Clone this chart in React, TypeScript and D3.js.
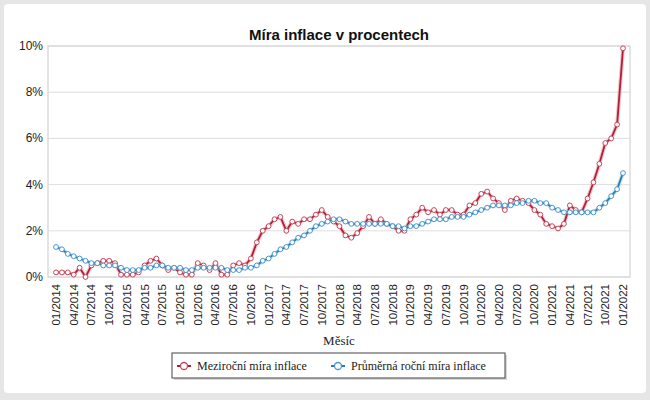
import React from "react";
import * as d3 from "d3";

const years = [2014, 2015, 2016, 2017, 2018, 2019, 2020, 2021, 2022];

const meziRocni: number[] = [
  0.2, 0.2, 0.2, 0.1, 0.4, 0.0, 0.5, 0.6, 0.7, 0.7, 0.6, 0.1,
  0.1, 0.1, 0.2, 0.5, 0.7, 0.8, 0.5, 0.3, 0.4, 0.2, 0.1, 0.1,
  0.6, 0.5, 0.3, 0.6, 0.1, 0.1, 0.5, 0.6, 0.5, 0.8, 1.5, 2.0,
  2.2, 2.5, 2.6, 2.0, 2.4, 2.3, 2.5, 2.5, 2.7, 2.9, 2.6, 2.4,
  2.2, 1.8, 1.7, 1.9, 2.2, 2.6, 2.3, 2.5, 2.3, 2.2, 2.0, 2.0,
  2.5, 2.7, 3.0, 2.8, 2.9, 2.7, 2.9, 2.9, 2.7, 2.7, 3.1, 3.2,
  3.6, 3.7, 3.4, 3.2, 2.9, 3.3, 3.4, 3.3, 3.2, 2.9, 2.7, 2.3,
  2.2, 2.1, 2.3, 3.1, 2.9, 2.8, 3.4, 4.1, 4.9, 5.8, 6.0, 6.6,
  9.9,
];

const prumernaRocni: number[] = [
  1.3, 1.2, 1.0, 0.9, 0.8, 0.7, 0.6, 0.6, 0.5, 0.5, 0.5, 0.4,
  0.3, 0.3, 0.3, 0.4, 0.4, 0.5, 0.5, 0.4, 0.4, 0.4, 0.3, 0.3,
  0.4, 0.4, 0.4, 0.4, 0.4, 0.3, 0.3, 0.3, 0.4, 0.4, 0.5, 0.7,
  0.8, 1.0, 1.2, 1.3, 1.5, 1.7, 1.8, 2.0, 2.2, 2.3, 2.4, 2.5,
  2.5, 2.4, 2.3, 2.3, 2.3, 2.3, 2.3, 2.3, 2.3, 2.2, 2.2, 2.1,
  2.2, 2.2, 2.3, 2.4, 2.5, 2.5, 2.5, 2.6, 2.6, 2.6, 2.7, 2.8,
  2.9, 3.0, 3.1, 3.1, 3.1, 3.1, 3.2, 3.2, 3.3, 3.3, 3.2, 3.2,
  3.0, 2.9, 2.8, 2.8, 2.8, 2.8, 2.8, 2.8, 3.0, 3.2, 3.5, 3.8,
  4.5,
];

const tickLabels = [
  "01/2014", "04/2014", "07/2014", "10/2014",
  "01/2015", "04/2015", "07/2015", "10/2015",
  "01/2016", "04/2016", "07/2016", "10/2016",
  "01/2017", "04/2017", "07/2017", "10/2017",
  "01/2018", "04/2018", "07/2018", "10/2018",
  "01/2019", "04/2019", "07/2019", "10/2019",
  "01/2020", "04/2020", "07/2020", "10/2020",
  "01/2021", "04/2021", "07/2021", "10/2021",
  "01/2022",
];

const yTicks = [0, 2, 4, 6, 8, 10];

const months: string[] = [];
years.forEach((y) => {
  for (let m = 1; m <= 12; m++) {
    if (y === 2022 && m > 1) break;
    months.push(`${String(m).padStart(2, "0")}/${y}`);
  }
});

const series = [
  { name: "Meziroční míra inflace", values: meziRocni, line: "#b01f36", marker: "#c8485b", halo: "#e8a0aa" },
  { name: "Průměrná roční míra inflace", values: prumernaRocni, line: "#2a78b4", marker: "#4a98cf", halo: "#9fcbe8" },
];

export default function App() {
  const plot = { left: 48, right: 630, top: 46, bottom: 277 };
  const x = d3.scalePoint<string>().domain(months).range([56, 623]);
  const y = d3.scaleLinear().domain([0, 10]).range([plot.bottom, plot.top]);
  const line = d3
    .line<number>()
    .x((_, i) => x(months[i]) as number)
    .y((d) => y(d));

  const sans = "'Liberation Sans', Arial, sans-serif";
  const serif = "'Liberation Serif', 'Times New Roman', serif";

  return (
    <svg width={650} height={400} style={{ position: "absolute", left: 0, top: 0 }}>
      <rect x={0} y={0} width={650} height={400} fill="#e6e6e6" />
      <rect x={4} y={4} width={642} height={389} rx={4} fill="#ffffff" />
      <text x={339} y={40} textAnchor="middle" fontFamily={sans} fontWeight="bold" fontSize={15} fill="#111">
        Míra inflace v procentech
      </text>

      {yTicks.map((t) => (
        <g key={t}>
          <line x1={plot.left} x2={plot.right} y1={y(t)} y2={y(t)} stroke="#dedede" strokeWidth={1} />
          <text x={43} y={y(t) + 4} textAnchor="end" fontFamily={sans} fontSize={12} fill="#222">
            {t}%
          </text>
        </g>
      ))}
      <rect
        x={plot.left}
        y={plot.top}
        width={plot.right - plot.left}
        height={plot.bottom - plot.top}
        fill="none"
        stroke="#dcdcdc"
        strokeWidth={1.5}
      />

      {tickLabels.map((lab) => {
        const px = x(lab) as number;
        return (
          <text
            key={lab}
            transform={`translate(${px + 4},${284}) rotate(-90)`}
            textAnchor="end"
            fontFamily={sans}
            fontSize={11.5}
            fill="#222"
          >
            {lab}
          </text>
        );
      })}
      <text x={339} y={345} textAnchor="middle" fontFamily={serif} fontSize={13} fill="#222">
        Měsíc
      </text>

      {series.map((s) => (
        <g key={s.name}>
          <path d={line(s.values) || ""} fill="none" stroke={s.halo} strokeWidth={4} strokeOpacity={0.6} />
          <path d={line(s.values) || ""} fill="none" stroke={s.line} strokeWidth={1.8} />
          {s.values.map((v, i) => (
            <circle
              key={i}
              cx={x(months[i]) as number}
              cy={y(v)}
              r={2.4}
              fill="#fff"
              stroke={s.marker}
              strokeWidth={1}
            />
          ))}
        </g>
      ))}

      <rect x={174} y={355} width={333} height={25} fill="#d8d8d8" />
      <rect x={172} y={353} width={333} height={25} fill="#fff" stroke="#444" strokeWidth={1} />
      {series.map((s, i) => {
        const mx = i === 0 ? 184 : 338;
        const ty = 366;
        return (
          <g key={s.name}>
            <line x1={mx - 7} x2={mx + 7} y1={ty} y2={ty} stroke={s.line} strokeWidth={2} />
            <circle cx={mx} cy={ty} r={3.5} fill="#fff" stroke={s.marker} strokeWidth={1.3} />
            <text x={mx + 13} y={ty + 4} fontFamily={serif} fontSize={12} fill="#222">
              {s.name}
            </text>
          </g>
        );
      })}
    </svg>
  );
}
